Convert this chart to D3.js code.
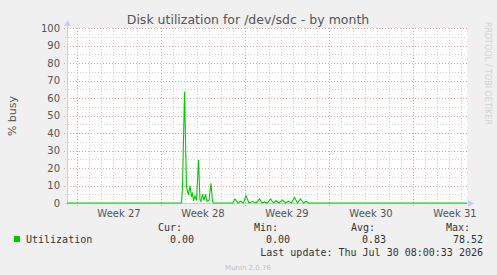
<!DOCTYPE html>
<html>
<head>
<meta charset="UTF-8">
<title>Disk utilization for /dev/sdc - by month</title>
<script src="https://d3js.org/d3.v7.min.js"></script>
<style>
	body { margin: 0; background: #f0f0f0; }
	svg { display: block; }
	text { font-family: "DejaVu Sans", sans-serif; }
	.mono { font-family: "DejaVu Sans Mono", monospace; font-size: 10px; fill: #333; }
</style>
</head>
<body>
<svg id="chart"></svg>
<script type="text/javascript">
	// hours since the start of the 800h window, and % busy at that time
	var hours = [0, 229, 231, 235, 239, 243, 246, 249, 251, 253, 256, 259, 263, 266, 268, 271, 274, 277, 280, 284, 288, 291, 293,
		331, 336, 342, 347, 353, 358, 364, 371, 378, 385, 390, 395, 401, 407, 413, 418, 424, 431, 437, 443, 449, 455, 461, 467, 473, 478, 483, 800];
	var busy = [0, 0, 9.3, 63.6, 9, 4.6, 10, 3.4, 6, 1.3, 4, 1.5, 24.6, 1.7, 1, 5, 1.5, 5, 1, 1.5, 11.2, 1, 0,
		0, 2.3, 0, 1, 0, 4.2, 0, 0.8, 0, 2.3, 0, 0.6, 0, 2.3, 0, 1.3, 0, 1.7, 0, 1, 0, 3.2, 0, 2.3, 0, 1, 0, 0];

	var weekLabels = ["Week 27", "Week 28", "Week 29", "Week 30", "Week 31"];
	var weekStarts = [20, 188, 356, 524, 692];
	var yTicks = [0, 10, 20, 30, 40, 50, 60, 70, 80, 90, 100];

	var legendHeads = ["Cur:", "Min:", "Avg:", "Max:"];
	var legendValues = ["0.00", "0.00", "0.83", "78.52"];

	var width = 497, height = 275;
	var padL = 67, padR = 467, padT = 28, padB = 203;

	var x = d3.scaleLinear().domain([0, 800]).range([padL, padR]);
	var y = d3.scaleLinear().domain([0, 100]).range([padB, padT]);

	var svg = d3.select("#chart").attr("width", width).attr("height", height);

	svg.append("rect").attr("width", width).attr("height", height).attr("fill", "#f0f0f0");
	svg.append("rect").attr("x", padL).attr("y", padT).attr("width", padR - padL).attr("height", padB - padT).attr("fill", "#ffffff");

	// minor grid
	var dayLines = d3.range(20, 800, 24).filter(function(h) { return weekStarts.indexOf(h) < 0; });
	svg.append("g").selectAll("line").data(dayLines).enter().append("line")
		.attr("x1", function(d) { return Math.round(x(d)) + 0.5; })
		.attr("x2", function(d) { return Math.round(x(d)) + 0.5; })
		.attr("y1", padT).attr("y2", padB + 2)
		.attr("stroke", "#d0d0d0").attr("stroke-dasharray", "1,2").attr("shape-rendering", "crispEdges");

	var minorY = d3.range(5, 100, 10);
	svg.append("g").selectAll("line").data(minorY).enter().append("line")
		.attr("x1", padL - 2).attr("x2", padR)
		.attr("y1", function(d) { return Math.round(y(d)) + 0.5; })
		.attr("y2", function(d) { return Math.round(y(d)) + 0.5; })
		.attr("stroke", "#d0d0d0").attr("stroke-dasharray", "1,2").attr("shape-rendering", "crispEdges");

	// major grid
	svg.append("g").selectAll("line").data(weekStarts).enter().append("line")
		.attr("x1", function(d) { return Math.round(x(d)) + 0.5; })
		.attr("x2", function(d) { return Math.round(x(d)) + 0.5; })
		.attr("y1", padT).attr("y2", padB + 3)
		.attr("stroke", "#e6a3a3").attr("stroke-dasharray", "1,2").attr("shape-rendering", "crispEdges");

	svg.append("g").selectAll("line").data(yTicks.slice(1)).enter().append("line")
		.attr("x1", padL - 3).attr("x2", padR)
		.attr("y1", function(d) { return Math.round(y(d)) + 0.5; })
		.attr("y2", function(d) { return Math.round(y(d)) + 0.5; })
		.attr("stroke", "#e6a3a3").attr("stroke-dasharray", "1,2").attr("shape-rendering", "crispEdges");

	// y labels
	svg.append("g").selectAll("text").data(yTicks).enter().append("text")
		.attr("x", padL - 7).attr("y", function(d) { return y(d) + 3.5; })
		.attr("text-anchor", "end").attr("font-size", "10px").attr("fill", "#555")
		.text(function(d) { return d; });

	// x labels
	svg.append("g").selectAll("text").data(weekLabels).enter().append("text")
		.attr("x", function(d, i) { return x(weekStarts[i] + 84); })
		.attr("y", 217).attr("text-anchor", "middle").attr("font-size", "10px").attr("fill", "#555")
		.text(function(d) { return d; });

	// axes
	svg.append("line").attr("x1", padL + 0.5).attr("x2", padL + 0.5).attr("y1", padB + 2).attr("y2", padT - 4)
		.attr("stroke", "#c8ccf0").attr("shape-rendering", "crispEdges");
	svg.append("line").attr("x1", padL - 2).attr("x2", padR + 3).attr("y1", padB + 0.5).attr("y2", padB + 0.5)
		.attr("stroke", "#c8ccf0").attr("shape-rendering", "crispEdges");
	svg.append("path").attr("d", "M" + (padL - 3) + "," + (padT - 2) + "L" + (padL + 0.5) + "," + (padT - 8) + "L" + (padL + 4) + "," + (padT - 2) + "Z")
		.attr("fill", "#c8ccf0");
	svg.append("path").attr("d", "M" + (padR + 1) + "," + (padB - 3) + "L" + (padR + 7) + "," + (padB + 0.5) + "L" + (padR + 1) + "," + (padB + 4) + "Z")
		.attr("fill", "#c8ccf0");

	// data line
	var line = d3.line()
		.x(function(d, i) { return x(hours[i]); })
		.y(function(d) { return y(d); });
	svg.append("path").datum(busy).attr("d", line)
		.attr("fill", "none").attr("stroke", "#00cc00").attr("stroke-width", 1.1);

	// title and labels
	svg.append("text").attr("x", 248).attr("y", 24).attr("text-anchor", "middle")
		.attr("font-size", "12.5px").attr("fill", "#555").text("Disk utilization for /dev/sdc - by month");
	svg.append("text").attr("transform", "translate(16,116) rotate(-90)").attr("text-anchor", "middle")
		.attr("font-size", "11px").attr("fill", "#555").text("% busy");
	svg.append("text").attr("transform", "translate(485,22) rotate(90)").attr("text-anchor", "start")
		.attr("font-size", "8px").attr("fill", "#d2d2d2").text("RRDTOOL / TOBI OETIKER");

	// legend
	var headRight = [182, 278, 375, 470];
	var valueRight = [194, 290, 386, 483];
	svg.append("g").selectAll("text").data(legendHeads).enter().append("text")
		.attr("class", "mono").attr("x", function(d, i) { return headRight[i]; }).attr("y", 231)
		.attr("text-anchor", "end").text(function(d) { return d; });
	svg.append("rect").attr("x", 14).attr("y", 236).attr("width", 6).attr("height", 6).attr("fill", "#00cc00");
	svg.append("text").attr("class", "mono").attr("x", 26).attr("y", 243).text("Utilization");
	svg.append("g").selectAll("text").data(legendValues).enter().append("text")
		.attr("class", "mono").attr("x", function(d, i) { return valueRight[i]; }).attr("y", 243)
		.attr("text-anchor", "end").text(function(d) { return d; });
	svg.append("text").attr("class", "mono").attr("x", 483).attr("y", 256).attr("text-anchor", "end")
		.text("Last update: Thu Jul 30 08:00:33 2026");
	svg.append("text").attr("x", 248).attr("y", 270).attr("text-anchor", "middle")
		.attr("font-size", "7px").attr("fill", "#c0c0c0").text("Munin 2.0.76");
</script>
</body>
</html>
